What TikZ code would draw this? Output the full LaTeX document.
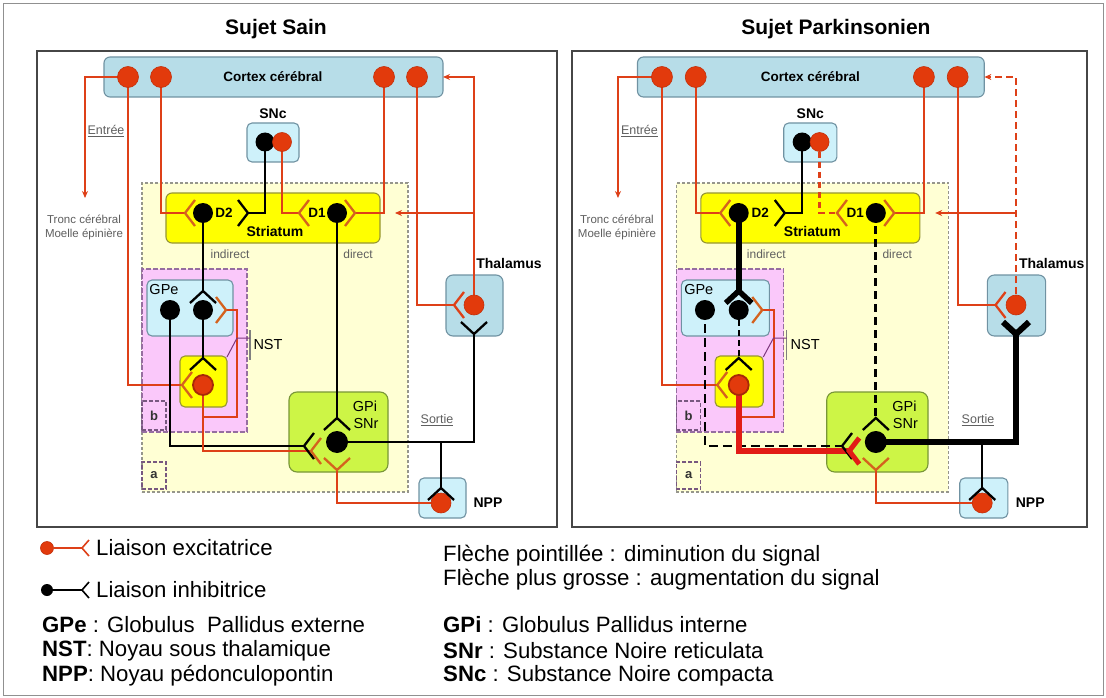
\documentclass[tikz,border=0pt]{standalone}
\usepackage{fontspec}
\setmainfont{Liberation Sans}
\usetikzlibrary{arrows.meta,fit}

\definecolor{cred}{RGB}{222,64,24}
\definecolor{cdot}{RGB}{226,58,12}
\definecolor{cdotd}{RGB}{196,48,10}
\definecolor{csyn}{RGB}{212,98,30}
\definecolor{cthick}{RGB}{226,28,22}
\definecolor{ctx}{RGB}{183,221,232}
\definecolor{cbord}{RGB}{112,146,162}
\definecolor{ccyan}{RGB}{206,241,250}
\definecolor{cyel}{RGB}{255,255,0}
\definecolor{cyelb}{RGB}{150,150,50}
\definecolor{clime}{RGB}{205,245,70}
\definecolor{climeb}{RGB}{120,150,55}
\definecolor{cregA}{RGB}{255,255,212}
\definecolor{cregAb}{RGB}{150,150,140}
\definecolor{cregB}{RGB}{250,200,250}
\definecolor{cregBb}{RGB}{150,110,160}
\definecolor{cpurp}{RGB}{125,55,125}
\definecolor{cgtxt}{RGB}{95,95,95}
\definecolor{cframe}{RGB}{70,70,70}

\tikzset{
  redln/.style={draw=cred,line width=2pt},
  blkln/.style={draw=black,line width=2pt},
  rsyn/.style={color=csyn,line width=2.3pt},
  ksyn/.style={color=black,line width=2.3pt},
  cxTh/.style={redln},
  snD1/.style={redln},
  d1Gpi/.style={blkln},
  d2Gpe/.style={blkln},
  d2GpeSyn/.style={ksyn},
  g1Gpi/.style={blkln},
  g2Nst/.style={blkln},
  nstGpi/.style={redln},
  nstGpiSyn/.style={rsyn},
  gpiTh/.style={blkln},
  gpiThSyn/.style={ksyn},
  fitbox/.style={inner sep=0pt,outer sep=0pt},
  ctxbox/.style={fitbox,draw=cbord,fill=ctx,line width=1.1pt,rounded corners=6pt},
  cyanbox/.style={fitbox,draw=cbord,fill=ccyan,line width=1.1pt,rounded corners=5pt},
  yelbox/.style={fitbox,draw=cyelb,fill=cyel,line width=1.1pt,rounded corners=6pt},
  limebox/.style={fitbox,draw=climeb,fill=clime,line width=1.1pt,rounded corners=8pt},
  regA/.style={fitbox,draw=cregAb,fill=cregA,line width=1.1pt,dash pattern=on 3pt off 2pt},
  regB/.style={fitbox,draw=cregBb,fill=cregB,line width=1.1pt,dash pattern=on 5pt off 2pt},
  tagbox/.style={fitbox,draw=cregBb!80!black,line width=1.1pt,dash pattern=on 4pt off 2pt},
  rdot/.style={circle,fill=cdot,draw=cdotd,line width=0.6pt,minimum size=21pt,inner sep=0pt},
  kdot/.style={circle,fill=black,minimum size=20pt,inner sep=0pt},
  lblb/.style={font=\bfseries\fontsize{13.5}{16}\selectfont,inner sep=1pt},
  lblr/.style={font=\fontsize{14.5}{17}\selectfont,inner sep=1pt},
  smalltxt/.style={font=\fontsize{12}{14}\selectfont,text=cgtxt,inner sep=1pt},
  undtxt/.style={font=\fontsize{12.5}{14}\selectfont,text=cgtxt,inner sep=1pt},
  tinytxt/.style={font=\fontsize{11.5}{14}\selectfont,text=cgtxt,inner sep=1pt,align=center},
  tagtxt/.style={font=\bfseries\fontsize{13}{15}\selectfont,text=black!80,inner sep=0pt},
  titletxt/.style={font=\bfseries\fontsize{21}{25}\selectfont,inner sep=0pt},
  legtxt/.style={font=\fontsize{22.2}{25}\selectfont,anchor=west,inner sep=0pt},
  chevR/.pic={\draw (10,-13) -- (0,0) -- (10,13);},
  chevL/.pic={\draw (-10,-13) -- (0,0) -- (-10,13);},
  chevD/.pic={\draw (-13,12) -- (0,0) -- (13,12);},
  chevU/.pic={\draw (-13,-12) -- (0,0) -- (13,-12);},
  chevS/.pic={\draw (7,-8) -- (0,0) -- (7,8);},
}

\newcommand\panelcontent[1]{%
  % regions and boxes
  \node[regA,fit={(142,183) (408,492)}] (#1regA) {};
  \node[regB,fit={(142,269) (247,432)}] (#1regB) {};
  \node[tagbox,fit={(142,401) (166,430)}] (#1bbox) {};
  \node[tagbox,fit={(142,462) (166,489)}] (#1abox) {};
  \node[tagtxt] (#1btxt) at (#1bbox.center) {b};
  \node[tagtxt] (#1atxt) at (#1abox.center) {a};
  \node[ctxbox,fit={(104,57) (443,97)}] (#1cortex) {};
  \node[cyanbox,fit={(247,123) (299,162)}] (#1snc) {};
  \node[yelbox,fit={(166,193) (380,243)}] (#1str) {};
  \node[cyanbox,fit={(147,280) (233,336)}] (#1gpe) {};
  \node[yelbox,rounded corners=5pt,fit={(180,356) (227,407)}] (#1nst) {};
  \node[limebox,fit={(289,392) (388,472)}] (#1gpi) {};
  \node[ctxbox,rounded corners=7pt,fit={(446,275) (503,336)}] (#1thal) {};
  \node[cyanbox,fit={(419,478) (466,518)}] (#1npp) {};
  % centres of neurons
  \coordinate (#1c1) at (128,77);
  \coordinate (#1c2) at (161,77);
  \coordinate (#1c3) at (384,77);
  \coordinate (#1c4) at (417,77);
  \coordinate (#1s1) at (265,142);
  \coordinate (#1s2) at (282,142);
  \coordinate (#1d2) at (203,213);
  \coordinate (#1d1) at (337,213);
  \coordinate (#1g1) at (170,310);
  \coordinate (#1g2) at (203,310);
  \coordinate (#1n) at (203,385);
  \coordinate (#1p) at (337,442);
  \coordinate (#1t) at (474,305);
  \coordinate (#1q) at (441,503);
  % synapse apexes
  \coordinate (#1aD2L) at (185,213);
  \coordinate (#1aD2R) at (248,213);
  \coordinate (#1aD1L) at (299,213);
  \coordinate (#1aD1R) at (355,213);
  \coordinate (#1aGPeT) at (203,291);
  \coordinate (#1aGPeR) at (226,310);
  \coordinate (#1aNstT) at (203,358);
  \coordinate (#1aNstL) at (182,385);
  \coordinate (#1aGpiT) at (337,418);
  \coordinate (#1aGpiB) at (304,446);
  \coordinate (#1aGpiR) at (311,451);
  \coordinate (#1aGpiU) at (337,470);
  \coordinate (#1aThL) at (454,305);
  \coordinate (#1aThB) at (474,334);
  \coordinate (#1aNpp) at (441,488);
  % helpers
  \coordinate (#1e1) at (85,198);
  \coordinate (#1k1) at (237,417);
  \coordinate (#1k2) at (441,442);
  \coordinate (#1k3) at (474,213);
  \coordinate (#1e2) at (395,213);
  \coordinate (#1nb1) at (250,330);
  \coordinate (#1nb2) at (250,360);
  \coordinate (#1nb) at (250,338);
  \coordinate (#1nk) at (237,338);
  \coordinate (#1nc) at (227,357);
  % connectors
  \draw[redln,-{Stealth[length=7pt,width=6pt]}] (#1c1) -| (#1e1);
  \draw[redln] (#1c1) |- (#1aNstL);
  \draw[redln] (#1c2) |- (#1aD2L);
  \draw[redln] (#1c3) |- (#1aD1R);
  \draw[redln] (#1c4) |- (#1aThL);
  \draw[blkln] (#1s1) |- (#1aD2R);
  \draw[snD1] (#1s2) |- (#1aD1L);
  \draw[d2Gpe] (#1d2) -- (#1aGPeT);
  \draw[d1Gpi] (#1d1) -- (#1aGpiT);
  \draw[g1Gpi] (#1g1) |- (#1aGpiB);
  \draw[g2Nst] (#1g2) -- (#1aNstT);
  \draw[redln] (#1n) |- (#1k1) |- (#1aGPeR);
  \draw[nstGpi] (#1n) |- (#1aGpiR);
  \draw[gpiTh] (#1p) -| (#1aThB);
  \draw[blkln] (#1k2) -- (#1aNpp);
  \draw[redln] (#1q) -| (#1aGpiU);
  \draw[cxTh,-{Stealth[length=7pt,width=6pt]}] (#1t) |- (#1cortex.east);
  \draw[redln,-{Stealth[length=7pt,width=6pt]}] (#1k3) -- (#1e2);
  \draw[draw=gray,line width=1.2pt] (#1nb1) -- (#1nb2);
  \draw[draw=cpurp,line width=1pt] (#1nb) -- (#1nk) -- (#1nc);
  % neurons
  \node[rdot] (#1c1n) at (#1c1) {};
  \node[rdot] (#1c2n) at (#1c2) {};
  \node[rdot] (#1c3n) at (#1c3) {};
  \node[rdot] (#1c4n) at (#1c4) {};
  \node[kdot,minimum size=19pt] (#1s1n) at (#1s1) {};
  \node[rdot,minimum size=19pt] (#1s2n) at (#1s2) {};
  \node[kdot] (#1d2n) at (#1d2) {};
  \node[kdot] (#1d1n) at (#1d1) {};
  \node[kdot] (#1g1n) at (#1g1) {};
  \node[kdot] (#1g2n) at (#1g2) {};
  \node[rdot,minimum size=20pt,draw=cdotd!85!black,line width=1.8pt] (#1nn) at (#1n) {};
  \node[kdot,minimum size=22pt] (#1pn) at (#1p) {};
  \node[rdot,minimum size=20pt] (#1tn) at (#1t) {};
  \node[rdot,minimum size=20pt] (#1qn) at (#1q) {};
  % synapses
  \pic[rsyn] at (#1aD2L) {chevR};
  \pic[ksyn] at (#1aD2R) {chevL};
  \pic[rsyn] at (#1aD1L) {chevR};
  \pic[rsyn] at (#1aD1R) {chevL};
  \pic[d2GpeSyn] at (#1aGPeT) {chevD};
  \pic[rsyn] at (#1aGPeR) {chevL};
  \pic[ksyn] at (#1aNstT) {chevD};
  \pic[rsyn] at (#1aNstL) {chevR};
  \pic[ksyn] at (#1aGpiT) {chevD};
  \pic[ksyn] at (#1aGpiB) {chevR};
  \pic[nstGpiSyn] at (#1aGpiR) {chevR};
  \pic[rsyn] at (#1aGpiU) {chevU};
  \pic[color=cred,line width=2.3pt] at (#1aThL) {chevR};
  \pic[gpiThSyn] at (#1aThB) {chevU};
  \pic[ksyn] at (#1aNpp) {chevD};
  % labels
  \node[lblb] (#1cxl) at (273,77) {Cortex cérébral};
  \node[lblb,font=\bfseries\fontsize{14}{16}\selectfont] (#1snl) at (273,114) {SNc};
  \node[lblb,font=\bfseries\fontsize{14}{16}\selectfont] (#1stl) at (275,231) {Striatum};
  \node[lblb] (#1d2l) at (224,213) {D2};
  \node[lblb] (#1d1l) at (317,213) {D1};
  \node[lblr] (#1gpel) at (164,290) {GPe};
  \node[lblr] (#1nstl) at (268,345) {NST};
  \node[lblr] (#1gpil) at (365,406) {GPi};
  \node[lblr] (#1snrl) at (366,424) {SNr};
  \node[lblb,font=\bfseries\fontsize{14}{16}\selectfont] (#1thl) at (509,263) {Thalamus};
  \node[lblb,font=\bfseries\fontsize{14}{16}\selectfont] (#1nppl) at (488,503) {NPP};
  \node[smalltxt] (#1ind) at (230,254) {indirect};
  \node[smalltxt] (#1dir) at (358,254) {direct};
  \node[undtxt] (#1ent) at (106,131) {\underline{Entrée}};
  \node[undtxt] (#1sor) at (437,420) {\underline{Sortie}};
  \node[tinytxt] (#1tr) at (84,227) {Tronc cérébral\\Moelle épinière};
}

\begin{document}
\begin{tikzpicture}[x=1pt,y=-1pt]
\useasboundingbox (0,0) rectangle (1106,698);
\fill[white] (0,0) rectangle (1106,698);
\node[fitbox,draw=cframe!60,line width=0.8pt,fit={(3,3) (1103,695)}] (outer) {};
\node[fitbox,draw=cframe,line width=1.2pt,fit={(37,51) (557,527)}] (Lframe) {};
\node[fitbox,draw=cframe,line width=1.2pt,fit={(572,51) (1087,527)}] (Rframe) {};
\node[titletxt] (Ltitle) at (276,29) {Sujet Sain};
\node[titletxt] (Rtitle) at (836,29) {Sujet Parkinsonien};

\begin{scope}
\panelcontent{L}
\end{scope}

\begin{scope}[shift={(531,0)},xscale=1.023,
  cxTh/.style={draw=cred,line width=2.4pt,dash pattern=on 7pt off 4pt},
  snD1/.style={draw=cred,line width=2.2pt,dash pattern=on 6pt off 4pt},
  d1Gpi/.style={draw=black,line width=2.8pt,dash pattern=on 8pt off 5pt},
  d2Gpe/.style={draw=black,line width=6pt},
  d2GpeSyn/.style={color=black,line width=5.5pt},
  g1Gpi/.style={draw=black,line width=2.8pt,dash pattern=on 9pt off 5pt},
  g2Nst/.style={draw=black,line width=2.2pt,dash pattern=on 6pt off 4pt},
  nstGpi/.style={draw=cthick,line width=6pt},
  nstGpiSyn/.style={color=cthick,line width=5pt},
  gpiTh/.style={draw=black,line width=6.5pt},
  gpiThSyn/.style={color=black,line width=6pt}]
\panelcontent{R}
\end{scope}

% legend
\coordinate (lgra) at (82,548);
\coordinate (lgka) at (82,590);
\node[rdot,minimum size=13pt] (lgr) at (47,548) {};
\node[kdot,minimum size=12pt] (lgk) at (47,590) {};
\draw[redln] (lgr) -- (lgra);
\draw[blkln] (lgk) -- (lgka);
\pic[color=cred,line width=1.6pt] at (lgra) {chevS};
\pic[color=black,line width=1.6pt] at (lgka) {chevS};
\node[legtxt] (lgrt) at (96,548) {Liaison excitatrice};
\node[legtxt] (lgkt) at (96,590) {Liaison inhibitrice};
\node[legtxt] (lg1) at (42,625) {\textbf{GPe} : Globulus\ \ Pallidus externe};
\node[legtxt] (lg2) at (42,651) {\textbf{NST}: Noyau sous thalamique};
\node[legtxt] (lg3) at (42,676) {\textbf{NPP}: Noyau pédonculopontin};
\node[legtxt] (lg4) at (443,556) {Flèche pointillée : diminution du signal};
\node[legtxt] (lg5) at (443,580) {Flèche plus grosse : augmentation du signal};
\node[legtxt] (lg6) at (443,625) {\textbf{GPi} : Globulus Pallidus interne};
\node[legtxt] (lg7) at (443,651) {\textbf{SNr} : Substance Noire reticulata};
\node[legtxt] (lg8) at (443,676) {\textbf{SNc} : Substance Noire compacta};
\end{tikzpicture}
\end{document}
